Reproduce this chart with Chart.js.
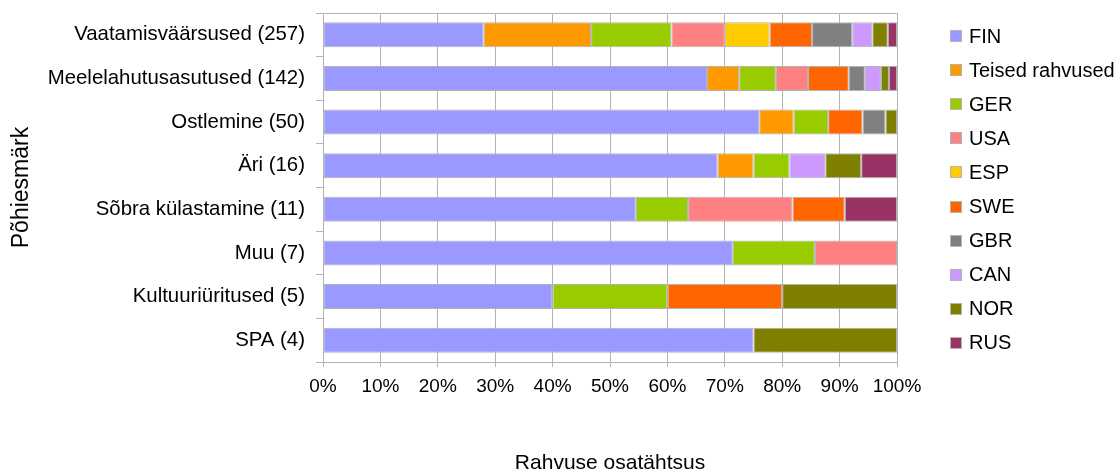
<!DOCTYPE html>
<html><head><meta charset="utf-8">
<script src="https://cdn.jsdelivr.net/npm/chart.js@4/dist/chart.umd.min.js"></script>
<style>html,body{margin:0;padding:0;background:#fff;} #wrap{width:1120px;height:472px;}</style>
</head><body><div id="wrap"><canvas id="c" width="1120" height="472"></canvas></div>
<script>
const categories = ['Vaatamisväärsused (257)', 'Meelelahutusasutused (142)', 'Ostlemine (50)', 'Äri (16)', 'Sõbra külastamine (11)', 'Muu (7)', 'Kultuuriüritused (5)', 'SPA (4)'];
const seriesNames = ['FIN', 'Teised rahvused', 'GER', 'USA', 'ESP', 'SWE', 'GBR', 'CAN', 'NOR', 'RUS'];
const FIN    = [28.0, 66.9, 76, 68.75, 54.5, 71.4, 40, 75];
const TEISED = [18.7, 5.6, 6, 6.25, null, null, null, null];
const GER    = [14.0, 6.4, 6, 6.25, 9.1, 14.3, 20, null];
const USA    = [9.3, 5.6, null, null, 18.2, 14.3, null, null];
const ESP    = [7.8, null, null, null, null, null, null, null];
const SWE    = [7.4, 7.1, 6, null, 9.1, null, 20, null];
const GBR    = [7.0, 2.8, 4, null, null, null, null, null];
const CAN    = [3.5, 2.8, null, 6.25, null, null, null, null];
const NOR    = [2.7, 1.4, 2, 6.25, null, null, 20, 25];
const RUS    = [1.6, 1.4, null, 6.25, 9.1, null, null, null];
const xTickLabels = ['0%', '10%', '20%', '30%', '40%', '50%', '60%', '70%', '80%', '90%', '100%'];
const seriesColors = ['#9999ff', '#ff9900', '#99cc00', '#ff8080', '#ffcc00', '#ff6600', '#808080', '#cc99ff', '#808000', '#993366'];
const seriesData = [FIN, TEISED, GER, USA, ESP, SWE, GBR, CAN, NOR, RUS];

const FONT = '"Liberation Sans", Arial, sans-serif';
const GRID = '#b3b3b3';

const framePlugin = {
  id: 'frame',
  beforeDatasetsDraw(chart) {
    const {ctx, chartArea: a} = chart;
    ctx.save();
    ctx.strokeStyle = GRID;
    ctx.lineWidth = 1;
    ctx.beginPath();
    const y = Math.round(a.top) + 0.5;
    ctx.moveTo(a.left, y);
    ctx.lineTo(a.right, y);
    ctx.stroke();
    ctx.restore();
  }
};

const legendPlugin = {
  id: 'sideLegend',
  afterDraw(chart) {
    const {ctx, chartArea: a} = chart;
    const ds = chart.data.datasets;
    const x0 = a.right + 53;
    const y0 = a.top + 23;
    const pitch = 34.1;
    ctx.save();
    ctx.font = '20px ' + FONT;
    ctx.textBaseline = 'middle';
    ctx.textAlign = 'left';
    ds.forEach((d, i) => {
      const cy = y0 + i * pitch;
      ctx.fillStyle = d.backgroundColor;
      ctx.fillRect(x0, Math.round(cy - 6), 12, 12);
      ctx.strokeStyle = GRID;
      ctx.lineWidth = 1;
      ctx.strokeRect(x0 + 0.5, Math.round(cy - 6) + 0.5, 11, 11);
      ctx.fillStyle = '#000';
      ctx.fillText(d.label, x0 + 19, cy + 1);
    });
    ctx.restore();
  }
};

new Chart(document.getElementById('c'), {
  type: 'bar',
  data: {
    labels: categories,
    datasets: seriesNames.map((n, i) => ({
      label: n,
      data: seriesData[i],
      backgroundColor: seriesColors[i],
      borderColor: GRID,
      borderWidth: 1,
      borderSkipped: false,
      barPercentage: 0.574,
      categoryPercentage: 1
    }))
  },
  options: {
    indexAxis: 'y',
    responsive: false,
    animation: false,
    layout: { padding: { top: 13, right: 223, left: 0, bottom: 0 } },
    plugins: { legend: { display: false }, tooltip: { enabled: false } },
    scales: {
      x: {
        stacked: true, min: 0, max: 100,
        ticks: { stepSize: 10, callback: (v) => xTickLabels[Math.round(v / 10)], color: '#000', font: { family: FONT, size: 19 }, padding: 8, maxRotation: 0, autoSkip: false },
        grid: { color: GRID, tickLength: 5, drawTicks: true },
        border: { color: GRID },
        title: { display: true, text: 'Rahvuse osatähtsus', color: '#000', font: { family: FONT, size: 21, lineHeight: 0.85 }, padding: { top: 0, bottom: 0 } },
        afterFit: (s) => { s.height = 110; }
      },
      y: {
        stacked: true,
        ticks: { color: '#000', font: { family: FONT, size: 20.4 }, padding: 11 },
        grid: { drawOnChartArea: false, tickLength: 7, color: GRID },
        border: { color: GRID },
        title: { display: true, text: 'Põhiesmärk', color: '#000', font: { family: FONT, size: 23 }, padding: { top: 8, bottom: 0 } },
        afterFit: (s) => { s.width = 323; s.paddingTop = 0; s.paddingBottom = 0; }
      }
    }
  },
  plugins: [framePlugin, legendPlugin]
});
</script>
</body></html>
